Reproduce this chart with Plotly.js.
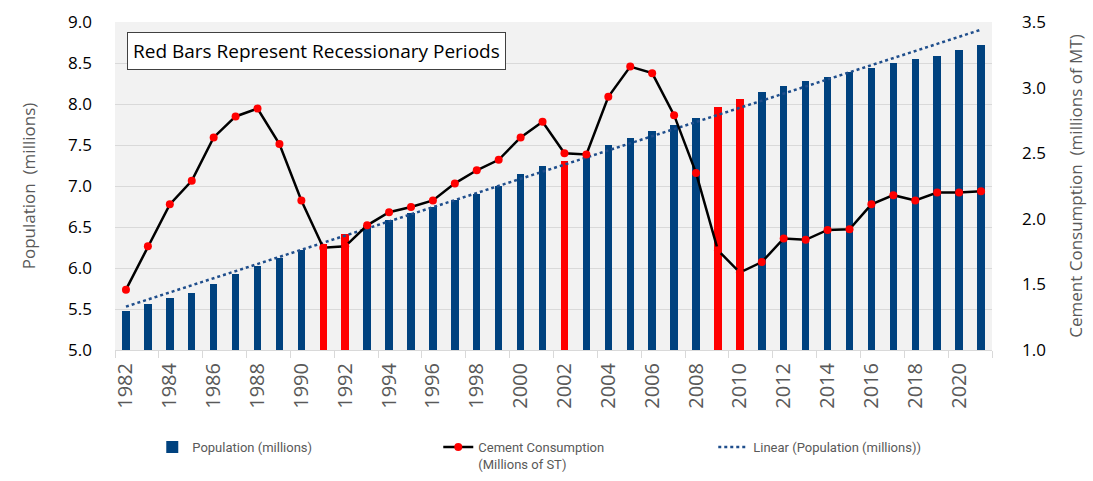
<!DOCTYPE html>
<html>
<head>
<meta charset="utf-8">
<script src="https://cdn.plot.ly/plotly-3.0.1.min.js"></script>
<style>
  html, body { margin: 0; padding: 0; background: #fff; }
  #chart { width: 1093px; height: 481px; }
</style>
</head>
<body>
<div id="chart"></div>
<script>
const years = [];
for (let y = 1982; y <= 2021; y++) years.push(y);

// population, millions
const population = [5.48, 5.56, 5.64, 5.70, 5.80, 5.93, 6.03, 6.12, 6.22, 6.29,
                    6.41, 6.52, 6.59, 6.67, 6.75, 6.83, 6.90, 7.00, 7.15, 7.24,
                    7.30, 7.40, 7.50, 7.59, 7.67, 7.74, 7.83, 7.96, 8.06, 8.15,
                    8.22, 8.28, 8.33, 8.39, 8.44, 8.50, 8.55, 8.59, 8.66, 8.72];

// cement consumption, millions of ST
const cement = [1.46, 1.79, 2.11, 2.29, 2.62, 2.78, 2.84, 2.57, 2.14, 1.78,
                1.79, 1.95, 2.05, 2.09, 2.14, 2.27, 2.37, 2.45, 2.62, 2.74,
                2.50, 2.49, 2.93, 3.16, 3.11, 2.79, 2.35, 1.76, 1.59, 1.67,
                1.85, 1.84, 1.915, 1.92, 2.11, 2.18, 2.14, 2.20, 2.20, 2.21];

const recessionYears = [1991, 1992, 2002, 2009, 2010];

const barColors = years.map(y => recessionYears.includes(y) ? '#ff0000' : '#00427f');

// Excel-style linear trendline of the population series
function linearFit(xs, ys) {
    const n = xs.length;
    const mx = xs.reduce((a, b) => a + b, 0) / n;
    const my = ys.reduce((a, b) => a + b, 0) / n;
    let sxy = 0, sxx = 0;
    for (let i = 0; i < n; i++) {
        sxy += (xs[i] - mx) * (ys[i] - my);
        sxx += (xs[i] - mx) * (xs[i] - mx);
    }
    const slope = sxy / sxx;
    return xs.map(x => my + slope * (x - mx));
}
const trend = linearFit(years, population);

const tickYears = years.filter(y => y % 2 === 0);
const textGray = '#595959';
const legendFont = { family: 'Liberation Sans Narrow, Roboto, sans-serif', size: 13, color: textGray };

const traces = [
    {
        x: years, y: population,
        type: 'bar',
        name: 'Population (millions)',
        marker: { color: barColors },
        width: 0.34,
        legendwidth: 241,
        hoverinfo: 'x+y'
    },
    {
        x: years, y: cement,
        type: 'scatter', mode: 'lines+markers',
        name: 'Cement Consumption<br>(Millions of ST)',
        yaxis: 'y2',
        line: { color: '#000000', width: 2.5 },
        marker: { color: '#ff0000', size: 8 },
        legendwidth: 230
    },
    {
        x: years, y: trend,
        type: 'scatter', mode: 'lines',
        name: 'Linear (Population (millions))',
        line: { color: '#1f4e8c', width: 2.5, dash: 'dot' }
    }
];

const layout = {
    width: 1093, height: 481,
    margin: { l: 115, r: 101, t: 22, b: 131, autoexpand: false },
    paper_bgcolor: '#ffffff',
    plot_bgcolor: '#f2f2f2',
    font: { family: 'Open Sans, sans-serif', color: '#000' },
    showlegend: true,
    legend: {
        orientation: 'h',
        x: 0.0425, xanchor: 'left',
        y: -0.25, yanchor: 'top',
        entrywidth: 242, entrywidthmode: 'pixels',
        valign: 'top',
        font: legendFont,
        traceorder: 'normal'
    },
    xaxis: {
        type: 'linear',
        range: [1981.5, 2021.5],
        tickvals: tickYears,
        ticktext: tickYears.map(String),
        tickangle: -90,
        tickfont: { family: 'Open Sans, sans-serif', size: 20, color: textGray },
        ticks: '',
        showgrid: false,
        zeroline: false,
        showline: true, linecolor: '#d9d9d9', linewidth: 1,
        minor: { tick0: 1981.5, dtick: 2, ticks: 'outside', ticklen: 7, tickcolor: '#d9d9d9', showgrid: false },
        ticklabelstandoff: 4,
        fixedrange: true
    },
    yaxis: {
        range: [5.0, 9.0],
        dtick: 0.5,
        tickformat: '.1f',
        tickfont: { family: 'Open Sans, sans-serif', size: 17, color: '#000' },
        gridcolor: '#d9d9d9', gridwidth: 1,
        zeroline: false,
        ticklabelstandoff: 22,
        title: { text: 'Population  (millions)', font: { family: 'Open Sans, sans-serif', size: 17, color: textGray }, standoff: 28 },
        fixedrange: true
    },
    yaxis2: {
        overlaying: 'y', side: 'right',
        range: [1.0, 3.5],
        dtick: 0.5,
        tickformat: '.1f',
        tickfont: { family: 'Open Sans, sans-serif', size: 17, color: '#000' },
        showgrid: false, zeroline: false,
        ticklabelstandoff: 29,
        title: { text: 'Cement Consumption  (millions of MT)', font: { family: 'Open Sans, sans-serif', size: 17, color: textGray }, standoff: 25 },
        fixedrange: true
    },
    annotations: [{
        xref: 'paper', yref: 'paper',
        x: 0.0137, y: 0.97, xanchor: 'left', yanchor: 'top',
        text: 'Red Bars Represent Recessionary Periods',
        showarrow: false,
        font: { family: 'Open Sans, sans-serif', size: 19, color: '#000' },
        bgcolor: '#ffffff', bordercolor: '#404040', borderwidth: 1, borderpad: 5
    }],
    bargap: 0
};

Plotly.newPlot('chart', traces, layout, { displayModeBar: false, staticPlot: true });
</script>
</body>
</html>
